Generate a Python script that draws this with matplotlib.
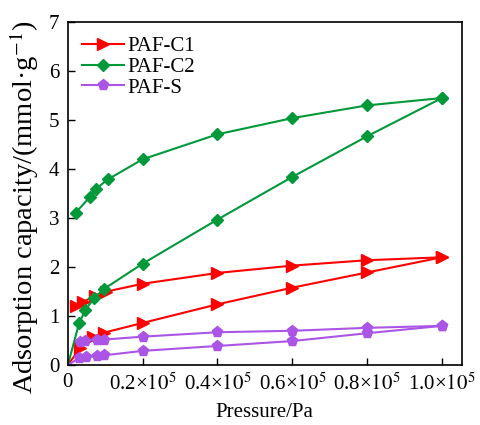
import numpy as np
import matplotlib.pyplot as plt

plt.rcParams['font.family'] = ['Liberation Serif', 'DejaVu Serif']
plt.rcParams['mathtext.fontset'] = 'stix'

# adsorption (lower) and desorption (upper) branches, pressure in Pa
c1_ads_p = [0, 3200, 6800, 9600, 20000, 40000, 60000, 80000, 100000]
c1_ads_q = [0, 0.34, 0.58, 0.66, 0.86, 1.24, 1.58, 1.89, 2.20]
c1_des_p = [2100, 4100, 7200, 10300, 20000, 40000, 60000, 80000, 100000]
c1_des_q = [1.21, 1.29, 1.41, 1.50, 1.66, 1.88, 2.03, 2.14, 2.20]

c2_ads_p = [0, 3000, 4700, 7000, 9600, 20000, 40000, 60000, 80000, 100000]
c2_ads_q = [0, 0.85, 1.13, 1.36, 1.55, 2.07, 2.97, 3.84, 4.67, 5.45]
c2_des_p = [2100, 5900, 7600, 10700, 20000, 40000, 60000, 80000, 100000]
c2_des_q = [3.11, 3.43, 3.60, 3.79, 4.20, 4.71, 5.04, 5.30, 5.45]

s_ads_p = [0, 3000, 4800, 7700, 9800, 20000, 40000, 60000, 80000, 100000]
s_ads_q = [0, 0.14, 0.16, 0.18, 0.20, 0.29, 0.39, 0.49, 0.65, 0.80]
s_des_p = [3200, 4500, 7900, 9600, 20000, 40000, 60000, 80000, 100000]
s_des_q = [0.47, 0.49, 0.52, 0.52, 0.58, 0.67, 0.70, 0.76, 0.80]

xticks = [0, 20000, 40000, 60000, 80000, 100000]
xtick_labels = ['0', '0.2×$10^{5}$', '0.4×$10^{5}$', '0.6×$10^{5}$',
                '0.8×$10^{5}$', '1.0×$10^{5}$']

red = '#ff0000'
green = '#00993a'
purple = '#aa55e6'

fig = plt.figure(figsize=(4.81, 4.25), dpi=100)
ax = fig.add_axes([0.141, 0.141, 0.819, 0.807])

ax.plot(c1_ads_p, c1_ads_q, color=red, lw=1.5, marker='>', ms=8.5,
        markevery=list(range(1, len(c1_ads_p))), label='PAF-C1')
ax.plot(c1_des_p, c1_des_q, color=red, lw=1.5, marker='>', ms=8.5)
ax.plot(c2_ads_p, c2_ads_q, color=green, lw=1.5, marker='D', ms=6,
        markevery=list(range(1, len(c2_ads_p))), label='PAF-C2')
ax.plot(c2_des_p, c2_des_q, color=green, lw=1.5, marker='D', ms=6)
ax.plot(s_ads_p, s_ads_q, color=purple, lw=1.5, marker='p', ms=8,
        markevery=list(range(1, len(s_ads_p))), label='PAF-S')
ax.plot(s_des_p, s_des_q, color=purple, lw=1.5, marker='p', ms=8)

ax.set_xlim(0, 105300)
ax.set_ylim(0, 7)
ax.set_xticks(xticks)
ax.set_xticklabels(xtick_labels)
ax.set_yticks(range(0, 8))
ax.tick_params(direction='in', length=5, width=1, labelsize=15, pad=6)
for s in ax.spines.values():
    s.set_linewidth(1.2)

ax.set_xlabel('Pressure/Pa', fontsize=15, labelpad=6)
ax.set_ylabel('Adsorption capacity/(mmol·g$^{-1}$)', fontsize=20.5)
ax.yaxis.set_label_coords(-0.068, 0.46)

ax.legend(loc='upper left', frameon=False, fontsize=15, handlelength=2.0,
          handletextpad=0.15, labelspacing=0.05, borderaxespad=0.3)

fig.savefig('out.png', dpi=100)
